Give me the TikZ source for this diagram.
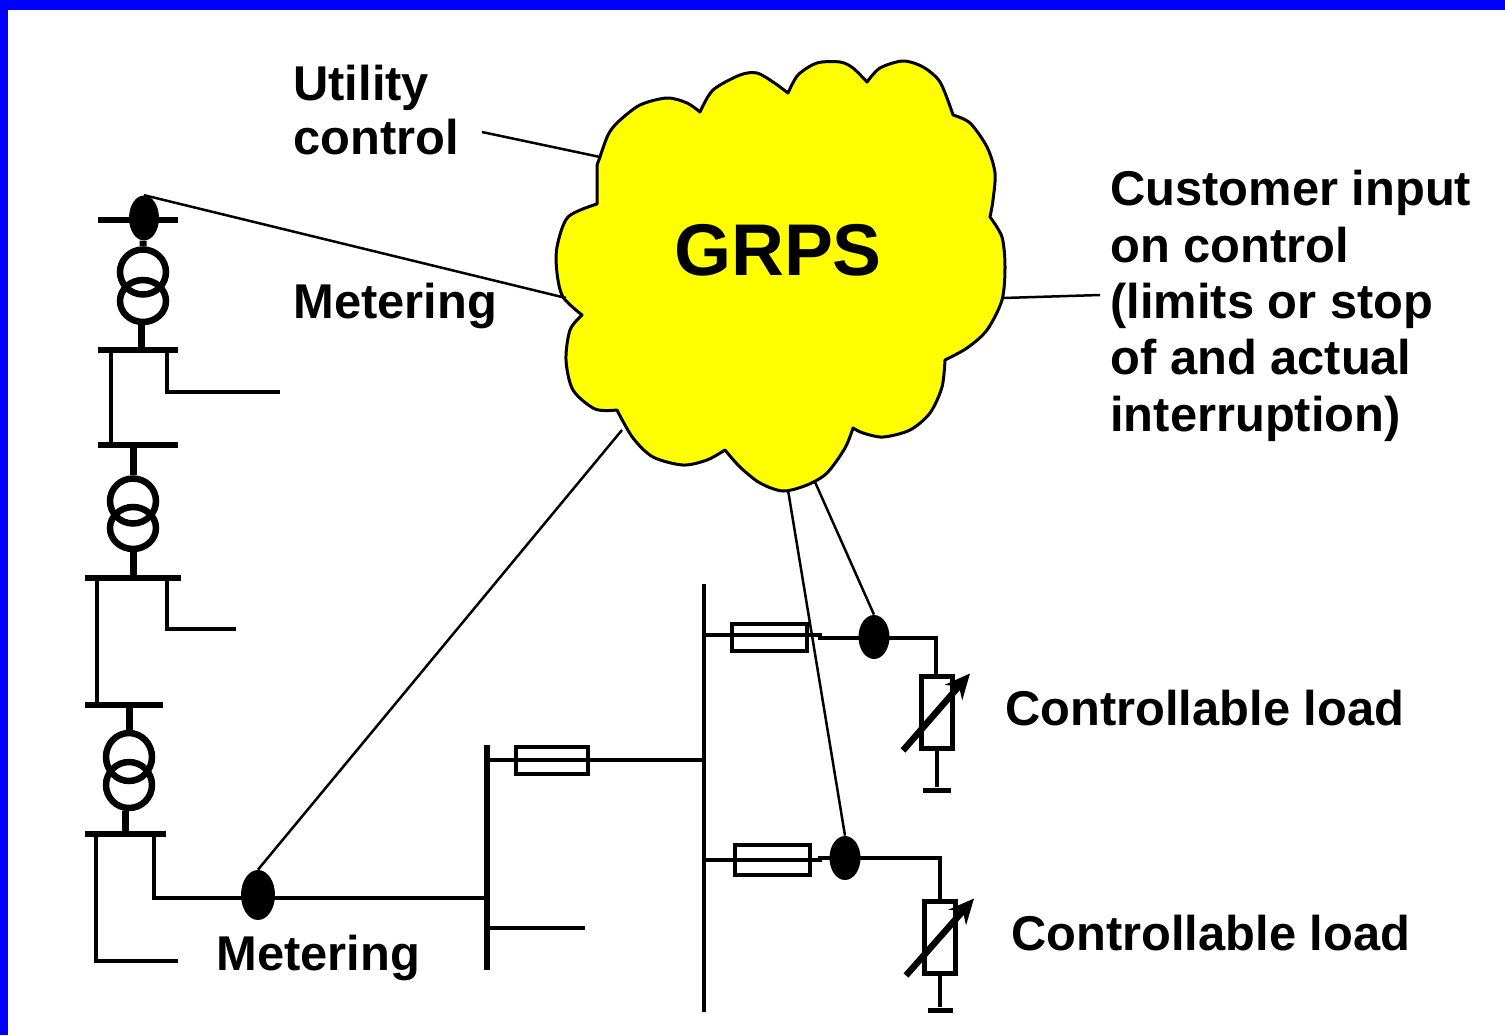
\documentclass[tikz,border=0pt]{standalone}
\usepackage{fontspec}
\setmainfont{Liberation Sans}
\usetikzlibrary{shapes.geometric, arrows.meta, positioning}
\definecolor{cloudfill}{RGB}{255,255,0}
\definecolor{frameblue}{RGB}{0,0,255}
\tikzstyle{txt} = [font=\bfseries\fontsize{27.8}{32.1}\selectfont, inner sep=0, align=left]
\tikzstyle{cloud} = [draw=black, fill=cloudfill, line width=.06cm, line join=round]
\tikzstyle{sig} = [line width=.05cm]
\tikzstyle{wire} = [line width=.08cm]
\tikzstyle{stem} = [line width=.14cm]
\tikzstyle{bus} = [rectangle, fill=black, inner sep=0, minimum height=.12cm]
\tikzstyle{meter} = [ellipse, fill=black, inner sep=0, minimum width=.62cm, minimum height=.94cm]
\tikzstyle{coil} = [ellipse, draw=black, line width=.13cm, inner sep=0, minimum width=.92cm]
\tikzstyle{fuse} = [rectangle, draw=black, line width=.08cm, inner sep=0, minimum width=1.46cm, minimum height=.54cm]
\tikzstyle{res} = [rectangle, draw=black, line width=.1cm, inner sep=0, minimum width=.62cm, minimum height=1.44cm]
\tikzstyle{tune} = [line width=.13cm,-{Stealth[length=.5cm,width=.46cm]}]

\begin{document}
\begin{tikzpicture}[x=.02cm, y=-.02cm]
      \useasboundingbox (0,0) rectangle (1505,1035);
      \fill [white] (0,0) rectangle (1505,1035);
      \fill [frameblue] (0,0) rectangle (1505,10);
      \fill [frameblue] (0,0) rectangle (8,1035);

      \draw [cloud] plot [smooth] coordinates {(600,157) (608,135) (618,122) (640,105) (667,98) (687,103) (700,112)}
        -- plot [smooth] coordinates {(700,112) (713,90) (740,75) (757,73) (773,82) (788,93)}
        -- plot [smooth] coordinates {(788,93) (798,75) (817,63) (840,62) (853,68) (867,82)}
        -- plot [smooth] coordinates {(867,82) (880,68) (903,61) (923,67) (940,82) (952,112)}
        -- plot [smooth] coordinates {(953,115) (970,123) (987,147) (995,173) (993,200) (990,217)}
        -- plot [smooth] coordinates {(990,217) (1002,237) (1005,267) (1002,300) (987,330) (967,348) (945,360)}
        -- plot [smooth] coordinates {(945,360) (942,387) (930,413) (910,430) (883,437) (863,433) (853,428)}
        -- plot [smooth] coordinates {(853,428) (845,448) (827,473) (807,485) (783,491) (760,483) (740,467) (725,450)}
        -- plot [smooth] coordinates {(725,450) (707,460) (683,465) (653,457) (633,438) (618,412)}
        -- plot [smooth] coordinates {(617,410) (595,409) (573,390) (566,360) (570,330) (582,315)}
        -- plot [smooth] coordinates {(582,315) (563,297) (557,273) (557,247) (568,217) (597,204)}
        -- (597,165) -- cycle;
      \node (grps) [font=\bfseries\fontsize{41.7}{46}\selectfont, inner sep=0] at (778,250) {GRPS};

      \coordinate (cloudutil) at (600,157);
      \coordinate (cloudmeter) at (566,298);
      \coordinate (cloudcust) at (1003,298);
      \coordinate (cloudgrid) at (622,430);
      \coordinate (cloudloadb) at (788,490);
      \coordinate (cloudloada) at (815,482);
      \coordinate (utilend) at (482,132);
      \coordinate (custend) at (1100,295);

      \node (utility) [txt, anchor=north west] at (293,65) {Utility\\[-.05cm]control};
      \node (meteringa) [txt, anchor=base west] at (293,318) {Metering};
      \node (meteringb) [txt, anchor=base west] at (216,970) {Metering};
      \node (customer) [txt, anchor=north west] at (1110,170) {Customer input\\on control\\(limits or stop\\of and actual\\interruption)};
      \node (loadtxta) [txt, anchor=base west] at (1005,725) {Controllable load};
      \node (loadtxtb) [txt, anchor=base west] at (1011,950) {Controllable load};

      \node (busa) [bus, minimum width=1.6cm] at (138,220) {};
      \node (busb) [bus, minimum width=1.6cm] at (138,350) {};
      \node (busc) [bus, minimum width=1.6cm] at (138,445) {};
      \node (busd) [bus, minimum width=1.92cm] at (133,578) {};
      \node (buse) [bus, minimum width=1.56cm] at (124,705) {};
      \node (busf) [bus, minimum width=1.62cm] at (125.5,834) {};
      \node (busg) [bus, minimum width=.12cm, minimum height=4.5cm] at (487,857.5) {};
      \node (bush) [bus, minimum width=.08cm, minimum height=8.56cm] at (704,798) {};

      \node (metera) [meter, minimum width=.6cm, minimum height=.9cm] at (144,218) {};
      \node (meterb) [meter, minimum width=.68cm, minimum height=1cm] at (258,895) {};
      \node (meterc) [meter, minimum width=.62cm, minimum height=.88cm] at (874,637) {};
      \node (meterd) [meter, minimum width=.62cm, minimum height=.88cm] at (845,858) {};

      \node (coilau) [coil, minimum height=.9cm] at (143,272) {};
      \node (coilal) [coil, minimum height=.84cm] at (143,301) {};
      \node (coilbu) [coil, minimum height=.9cm] at (133,501) {};
      \node (coilbl) [coil, minimum height=.84cm] at (133,528) {};
      \node (coilcu) [coil, minimum height=.96cm] at (129,757) {};
      \node (coilcl) [coil, minimum height=.92cm] at (129,785) {};

      \draw [stem] (metera) -- (coilau.north);
      \draw [stem] ([xshift=-.04cm]coilal.south) -- ([xshift=-.04cm]busb -| coilal.south);
      \draw [stem] (coilbu.north) -- (busc -| coilbu.north);
      \draw [stem] (coilbl.south) -- (busd -| coilbl.south);
      \draw [stem] (buse -| coilcu.north) -- (coilcu.north);
      \draw [stem] ([xshift=-.08cm]coilcl.south) -- ([xshift=-.08cm]busf -| coilcl.south);

      \coordinate (dropa) at (111,445);
      \coordinate (tapa) at (167,392);
      \coordinate (tapaend) at (280,392);
      \coordinate (dropb) at (97,705);
      \coordinate (tapb) at (167,629);
      \coordinate (tapbend) at (236,629);
      \coordinate (tapc) at (96,961);
      \coordinate (tapcend) at (178,961);
      \coordinate (tapd) at (154,898);
      \coordinate (tapdend) at (487,898);
      \coordinate (tape) at (487,928);
      \coordinate (tapeend) at (585,928);

      \draw [wire] (busb -| dropa) -- (dropa);
      \draw [wire] (busb -| tapa) -- (tapa) -- (tapaend);
      \draw [wire] (busd -| dropb) -- (dropb);
      \draw [wire] (busd -| tapb) -- (tapb) -- (tapbend);
      \draw [wire] (busf -| tapc) -- (tapc) -- (tapcend);
      \draw [wire] (busf -| tapd) -- (tapd) -- (tapdend);
      \draw [wire] (tape) -- (tapeend);

      \node (fusea) [fuse] at (552,760) {};
      \node (fuseb) [fuse, minimum width=1.5cm] at (769,637) {};
      \node (fusec) [fuse, minimum width=1.5cm, minimum height=.6cm] at (772,860) {};

      \node (resa) [res] at (937,712) {};
      \node (resb) [res] at (940,937) {};
      \node (capa) [bus, minimum width=.56cm, minimum height=.1cm] at (937,790) {};
      \node (capb) [bus, minimum width=.5cm, minimum height=.1cm] at (940,1010) {};
      \coordinate (stepa) at (820,635);
      \coordinate (stepb) at (820,638);
      \coordinate (cornera) at (936,638);
      \coordinate (stepc) at (820,860);
      \coordinate (stepd) at (820,858);
      \coordinate (cornerb) at (940,858);

      \draw [wire] (busg |- fusea) -- (bush |- fusea);
      \draw [wire] (bush |- stepa) -- (stepa) -- (stepb) -- (cornera) -- (resa.north -| cornera);
      \draw [wire] (bush |- stepc) -- (stepc) -- (stepd) -- (cornerb) -- (resb.north -| cornerb);
      \draw [wire] (resa.south -| capa) -- (capa);
      \draw [wire] (resb.south -| capb) -- (capb);

      \draw [tune] ([xshift=-.32cm]resa.south west) -- ([xshift=.3cm]resa.north east);
      \draw [tune] ([xshift=-.32cm]resb.south west) -- ([xshift=.32cm]resb.north east);

      \draw [sig] (utilend) -- (cloudutil);
      \draw [sig] (metera.north) -- (cloudmeter);
      \draw [sig] (cloudcust) -- (custend);
      \draw [sig] (meterb.north) -- (cloudgrid);
      \draw [sig] (cloudloadb) -- (meterd.north);
      \draw [sig] (cloudloada) -- (meterc.north);
    \end{tikzpicture}
\end{document}
